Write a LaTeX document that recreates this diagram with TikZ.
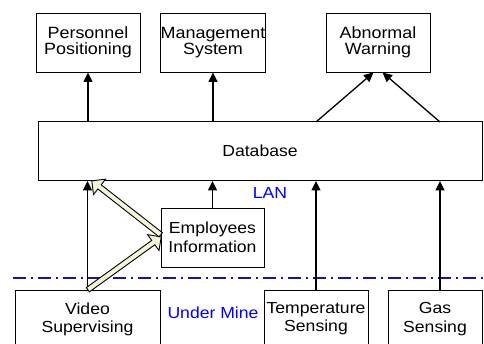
\documentclass[tikz,border=0pt]{standalone}
\usepackage{fontspec}
\setmainfont{Liberation Sans}[FakeStretch=1.1]
\usetikzlibrary{arrows.meta,shapes.arrows,calc}
\definecolor{cream}{RGB}{245,245,215}
\definecolor{navyline}{RGB}{20,20,160}
\begin{document}
\begin{tikzpicture}[x=1pt,y=-1pt,
  box/.style={draw,line width=0.9pt,inner sep=0pt,align=center,
    font=\fontsize{16}{18.5}\selectfont},
  topbox/.style={box,font=\fontsize{16.3}{16}\selectfont,minimum width=104pt,minimum height=59pt},
  arr/.style={line width=1.3pt,-{Triangle[length=9.5pt,width=9pt]}},
  hollow/.style={single arrow,draw,fill=cream,line width=0.9pt,inner sep=2.2pt,
    minimum width=9pt,single arrow head indent=0pt,anchor=tail},
  bluetext/.style={text=blue,font=\fontsize{16}{20}\selectfont,inner sep=0pt}]
\clip (0,0) rectangle (484,343);
\fill[white] (0,0) rectangle (484,343);
% top boxes
\node[topbox] (pp) at (88,42.5) {Personnel\\Positioning};
\node[topbox] (ms) at (213,42.5) {Management\\System};
\node[topbox] (aw) at (378,42.5) {Abnormal\\Warning};
% database
\node[box,minimum width=444pt,minimum height=59pt] (db) at (260,151) {Database};
% employees
\node[box,minimum width=103pt,minimum height=59pt] (emp) at (212.5,237.5) {Employees\\Information};
% bottom boxes
\node[box,minimum width=145pt,minimum height=70pt,anchor=north] (vs) at (87.5,290) {};
\node[box,minimum width=104pt,minimum height=70pt,anchor=north] (ts) at (316,290) {};
\node[box,minimum width=94pt,minimum height=70pt,anchor=north] (gs) at (435,290) {};
\node[box,draw=none,anchor=north] (vst) at (87.5,302) {Video\\Supervising};
\node[box,draw=none,anchor=north] (tst) at (316,302) {Temperature\\Sensing};
\node[box,draw=none,anchor=north] (gst) at (435,302) {Gas\\Sensing};
% labels
\node[bluetext] (lan) at (270,193) {LAN};
\node[bluetext] (um) at (213,313) {Under Mine};
% dash-dot line
\coordinate (dl) at (13,278);
\coordinate (dr) at (484,278);
\draw[navyline,line width=1.1pt,dash pattern=on 13pt off 5pt on 2pt off 5pt] (dl) -- (dr);
% arrows up to top boxes
\draw[arr] (db.north -| pp.south) -- (pp.south);
\draw[arr] (db.north -| ms.south) -- (ms.south);
\coordinate (aw1) at ($(aw.south)+(-4.5,0)$);
\coordinate (aw2) at ($(aw.south)+(4.5,0)$);
\coordinate (db1) at (316,122);
\coordinate (db2) at (440,122);
\draw[arr] (db1) -- (aw1);
\draw[arr] (db2) -- (aw2);
% arrows up to database
\draw[arr] (vs.north) -- (vs.north |- db.south);
\draw[arr] (emp.north) -- (emp.north |- db.south);
\draw[arr] (ts.north) -- (ts.north |- db.south);
\coordinate (gsa) at (440,290);
\draw[arr] (gsa) -- (gsa |- db.south);
% hollow arrows
\coordinate (ew1) at ($(emp.west)+(0.5,-0.5)$);
\coordinate (ew2) at ($(emp.west)+(0.5,-2.5)$);
\coordinate (dbh) at (92,181);
\path let \p1=(vs.north), \p2=(ew1), \n1={atan2(\y2-\y1,\x2-\x1)}, \n2={veclen(\x2-\x1,\y2-\y1)} in
  node[hollow,rotate=\n1,minimum height=\n2] (h1) at (\p1) {};
\path let \p1=(ew2), \p2=(dbh), \n1={atan2(\y2-\y1,\x2-\x1)}, \n2={veclen(\x2-\x1,\y2-\y1)} in
  node[hollow,rotate=\n1,minimum height=\n2] (h2) at (\p1) {};
\end{tikzpicture}
\end{document}
